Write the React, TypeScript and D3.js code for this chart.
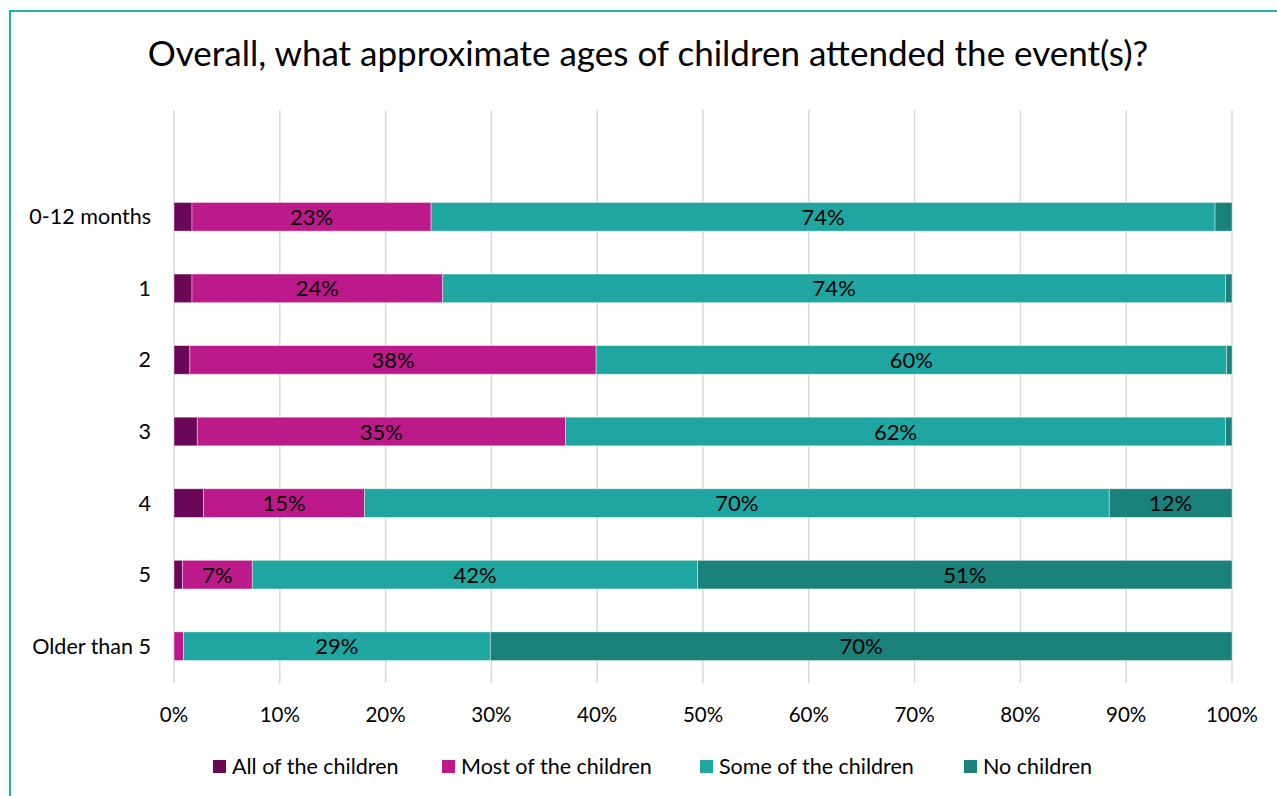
import React, { useEffect, useRef } from "react";
import * as d3 from "d3";

const categories = ["0-12 months", "1", "2", "3", "4", "5", "Older than 5"];
const seriesNames = ["All of the children", "Most of the children", "Some of the children", "No children"];
const allOf = [1.7, 1.7, 1.5, 2.2, 2.8, 0.8, 0];
const mostOf = [22.6, 23.7, 38.4, 34.8, 15.2, 6.6, 0.9];
const someOf = [74.1, 74.0, 59.6, 62.4, 70.4, 42.1, 29.0];
const noneOf = [1.6, 0.6, 0.5, 0.6, 11.6, 50.5, 70.1];
const colors = ["#6B0757", "#BC1A8A", "#20A6A0", "#1B817B"];
const xTicks = [0, 10, 20, 30, 40, 50, 60, 70, 80, 90, 100];
const title = "Overall, what approximate ages of children attended the event(s)?";

const W = 1277, H = 796;
const FONT = "Lato, 'Open Sans', sans-serif";

export default function App() {
  const ref = useRef<SVGSVGElement>(null);
  useEffect(() => {
    const svg = d3.select(ref.current);
    svg.selectAll("*").remove();
    svg.append("rect").attr("x", 0).attr("y", 0).attr("width", W).attr("height", H).attr("fill", "#fff");
    svg.append("rect").attr("x", 10).attr("y", 11).attr("width", W + 20).attr("height", H + 20)
      .attr("fill", "none").attr("stroke", "#1FB1A6").attr("stroke-width", 2);

    svg.append("text").attr("x", 648).attr("y", 66).attr("text-anchor", "middle")
      .attr("font-family", FONT).attr("font-size", 35).attr("fill", "#000").text(title);

    const x = d3.scaleLinear().domain([0, 100]).range([174, 1232]);
    const y = d3.scaleBand().domain(categories).range([181, 682]).paddingInner(0.6).paddingOuter(0.3);

    const g = svg.append("g");
    g.selectAll("line.grid").data(xTicks).join("line")
      .attr("x1", d => x(d)).attr("x2", d => x(d)).attr("y1", 110).attr("y2", 683)
      .attr("stroke", "#d9d9d9").attr("stroke-width", 1.5);

    g.selectAll("text.xt").data(xTicks).join("text")
      .attr("x", d => x(d)).attr("y", 722).attr("text-anchor", "middle")
      .attr("font-family", FONT).attr("font-size", 20.5).attr("fill", "#000")
      .text(d => d + "%");

    g.selectAll("text.yt").data(categories).join("text")
      .attr("x", 151).attr("y", d => (y(d) as number) + y.bandwidth() / 2 + 7.5)
      .attr("text-anchor", "end").attr("font-family", FONT).attr("font-size", 21.5).attr("fill", "#000")
      .text(d => d);

    const table = categories.map((c, i) => ({ cat: c, s0: allOf[i], s1: mostOf[i], s2: someOf[i], s3: noneOf[i] }));
    const stack = d3.stack<any>().keys(["s0", "s1", "s2", "s3"])(table);

    stack.forEach((layer, si) => {
      const lg = g.append("g");
      lg.selectAll("rect").data(layer).join("rect")
        .attr("x", d => x(d[0])).attr("width", d => Math.max(0, x(d[1]) - x(d[0])))
        .attr("y", d => y(d.data.cat) as number).attr("height", y.bandwidth())
        .attr("fill", colors[si]).attr("stroke", "#ffffff").attr("stroke-opacity", 0.5).attr("stroke-width", 0.8);
      lg.selectAll("text").data(layer.filter(d => d[1] - d[0] >= 5)).join("text")
        .attr("x", d => (x(d[0]) + x(d[1])) / 2)
        .attr("y", d => (y(d.data.cat) as number) + y.bandwidth() / 2 + 8)
        .attr("text-anchor", "middle").attr("font-family", FONT).attr("font-size", 22).attr("fill", "#000")
        .text(d => Math.round(d[1] - d[0]) + "%");
    });

    const legendX = [213, 442, 700, 964];
    const lg = svg.append("g");
    seriesNames.forEach((n, i) => {
      lg.append("rect").attr("x", legendX[i]).attr("y", 760).attr("width", 13).attr("height", 13).attr("fill", colors[i]);
      lg.append("text").attr("x", legendX[i] + 19).attr("y", 774).attr("font-family", FONT).attr("font-size", 21.5)
        .attr("fill", "#000").text(n);
    });
  }, []);
  return <svg ref={ref} width={W} height={H} style={{ position: "absolute", left: 0, top: 0 }} />;
}
